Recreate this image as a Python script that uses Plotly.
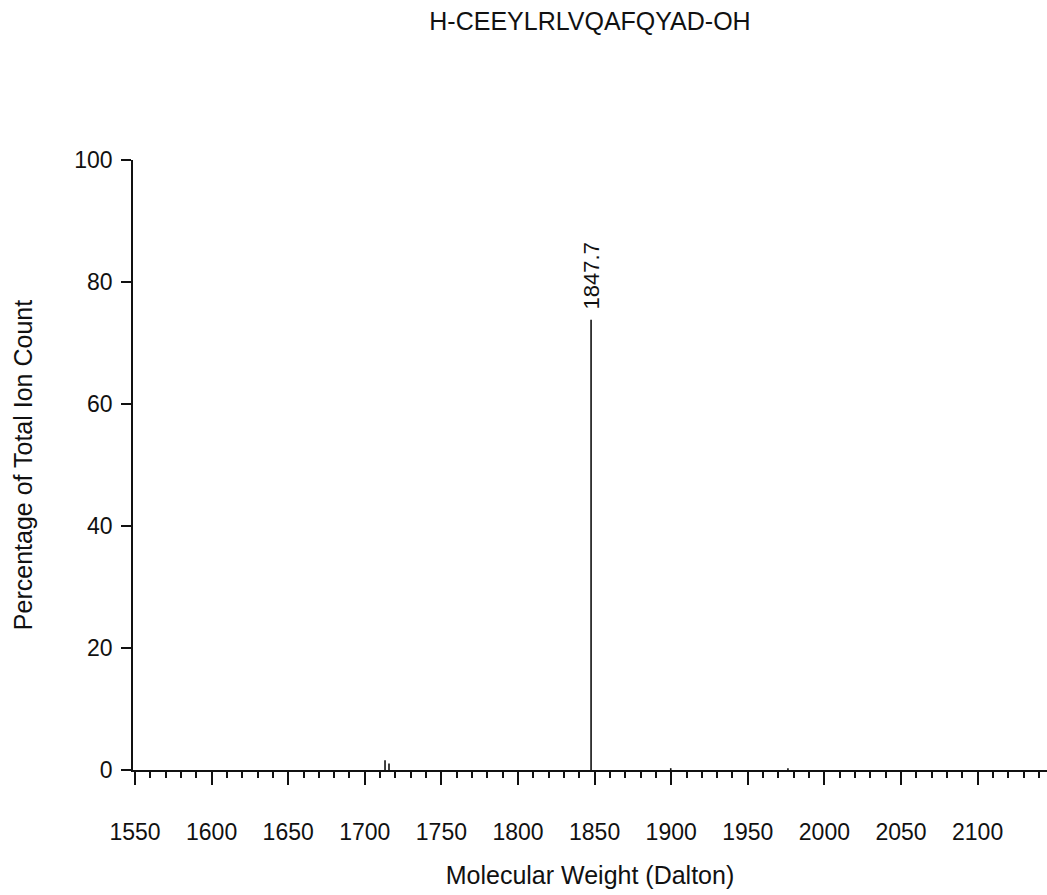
import plotly.graph_objects as go

# Deconvoluted mass spectrum: molecular weight (Da) vs % of total ion count
title_text = "H-CEEYLRLVQAFQYAD-OH"
masses = [1713.2, 1715.8, 1847.7, 1899.7, 1976.2]
intensities = [1.6, 1.05, 73.8, 0.3, 0.3]
labelled_mass = 1847.7
labelled_intensity = 73.8

x_ticks = [1550, 1600, 1650, 1700, 1750, 1800, 1850, 1900, 1950, 2000, 2050, 2100]
y_ticks = [0, 20, 40, 60, 80, 100]

# stick spectrum: one vertical segment per peak
xs, ys = [], []
for m, h in zip(masses, intensities):
    xs += [m, m, None]
    ys += [0, h, None]

FONT = "Liberation Sans, Arial, sans-serif"
INK = "#111111"

fig = go.Figure()
fig.add_trace(go.Scatter(
    x=xs, y=ys, mode="lines",
    line=dict(color=INK, width=1.6),
    hoverinfo="skip", showlegend=False,
))

fig.add_annotation(
    x=labelled_mass, y=labelled_intensity,
    text=f"{labelled_mass:.1f}", textangle=-90,
    showarrow=False, yanchor="bottom", xanchor="center",
    yshift=8, font=dict(family=FONT, size=22, color=INK),
)

fig.update_layout(
    width=1047, height=895,
    margin=dict(l=133, r=0, t=160, b=125),
    paper_bgcolor="white", plot_bgcolor="white",
    font=dict(family=FONT, color=INK),
    title=dict(
        text=title_text, x=0.5, xref="paper", xanchor="center",
        y=1 - 21 / 895, yref="container", yanchor="middle",
        font=dict(family=FONT, size=25, color=INK),
    ),
)

fig.update_xaxes(
    range=[1548.7, 2145.3],
    tickmode="array", tickvals=x_ticks, ticktext=[str(v) for v in x_ticks],
    ticks="outside", ticklen=13, tickwidth=1.6, tickcolor=INK,
    minor=dict(dtick=10, tick0=1550, ticks="outside", ticklen=6, tickwidth=1.6, tickcolor=INK),
    showline=True, linecolor=INK, linewidth=1.6,
    showgrid=False, zeroline=False,
    tickfont=dict(family=FONT, size=23, color=INK),
    ticklabelstandoff=28,
    title=dict(text="Molecular Weight (Dalton)", standoff=22,
               font=dict(family=FONT, size=25, color=INK)),
)

fig.update_yaxes(
    range=[0, 100],
    tickmode="array", tickvals=y_ticks, ticktext=[str(v) for v in y_ticks],
    ticks="outside", ticklen=10, tickwidth=1.6, tickcolor=INK,
    showline=True, linecolor=INK, linewidth=1.6,
    showgrid=False, zeroline=False,
    tickfont=dict(family=FONT, size=23, color=INK),
    ticklabelstandoff=4,
    title=dict(text="Percentage of Total Ion Count", standoff=34,
               font=dict(family=FONT, size=25, color=INK)),
)

fig.write_html("out.html")
